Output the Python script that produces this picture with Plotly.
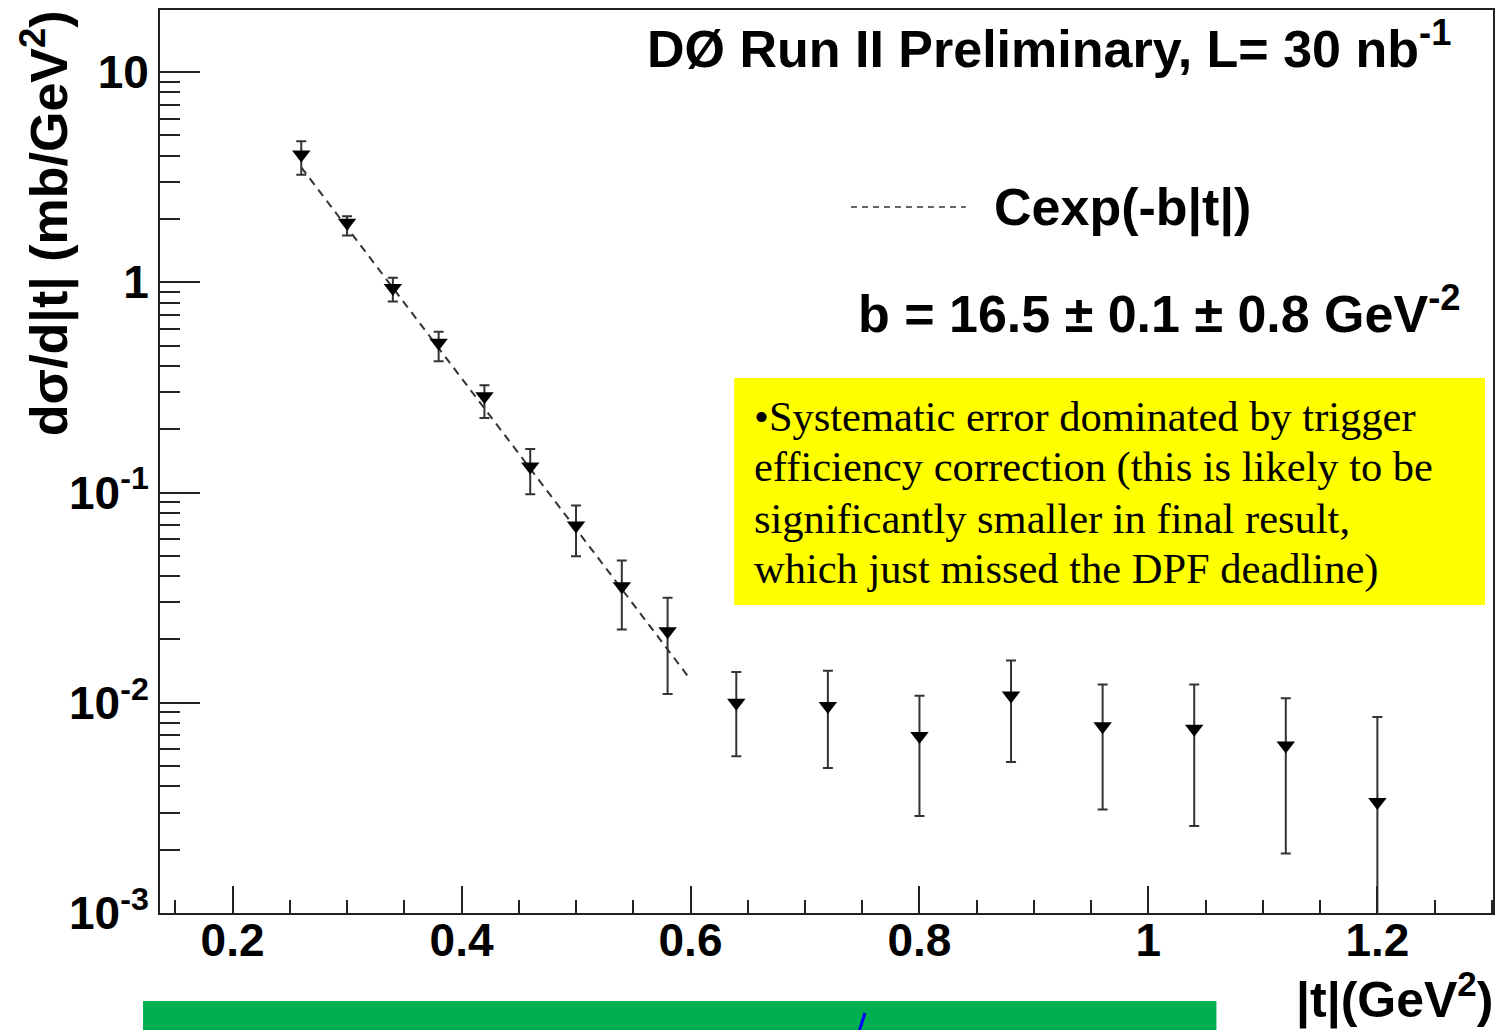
import math
import plotly.graph_objects as go

# |t| bin centres (GeV^2) and measured dsigma/d|t| (mb/GeV^2)
t_vals = [0.26, 0.30, 0.34, 0.38, 0.42, 0.46, 0.50, 0.54, 0.58,
          0.64, 0.72, 0.80, 0.88, 0.96, 1.04, 1.12, 1.20]
xsec = [4.05, 1.92, 0.94, 0.515, 0.287, 0.133, 0.0697, 0.0358, 0.0219,
        0.0100, 0.00964, 0.00694, 0.01083, 0.00774, 0.00752, 0.00627, 0.00337]
xsec_hi = [4.68, 2.06, 1.05, 0.581, 0.324, 0.161, 0.0867, 0.0475, 0.0316,
           0.0140, 0.0142, 0.0108, 0.0159, 0.0122, 0.0122, 0.0105, 0.00855]
xsec_lo = [3.25, 1.67, 0.81, 0.421, 0.226, 0.098, 0.0498, 0.0223, 0.0110,
           0.00557, 0.00489, 0.00289, 0.00522, 0.00311, 0.00259, 0.00192, 0.0004]

# Exponential fit Cexp(-b|t|) over the low-|t| region
fit_b = 16.5
fit_C = 257.0
fit_t = [0.26, 0.30, 0.34, 0.38, 0.42, 0.46, 0.50, 0.54, 0.58, 0.60]

y_tickvals = [1e-3, 1e-2, 1e-1, 1, 10]
y_ticktext = ["10<sup>-3</sup>", "10<sup>-2</sup>", "10<sup>-1</sup>", "1", "10"]
y_minor = [m * 10 ** d for d in range(-3, 2) for m in range(2, 10)]
x_tickvals = [0.2, 0.4, 0.6, 0.8, 1.0, 1.2]
x_ticktext = ["0.2", "0.4", "0.6", "0.8", "1", "1.2"]

note_lines = [
    "•Systematic error dominated by trigger",
    "efficiency correction (this is likely to be",
    "significantly smaller in final result,",
    "which just missed the DPF deadline)",
]

fit_y = [fit_C * math.exp(-fit_b * t) for t in fit_t]

W, H = 1503, 1030
L, R, T, B = 160, 1495, 10, 913


def px(x):
    return (x - L) / (R - L)


def py(y):
    return (B - y) / (B - T)


HELV = "Liberation Sans, Arial, sans-serif"
TIMES = "Liberation Serif, Times New Roman, serif"
INK = "#222"


def bold(size):
    return dict(family=HELV, size=size, color="black", weight="bold")


fig = go.Figure()

fig.add_trace(go.Scatter(
    x=fit_t, y=fit_y, mode="lines",
    line=dict(color="#333", width=2, dash="8px,6px"),
    hoverinfo="skip", showlegend=False,
))

fig.add_trace(go.Scatter(
    x=t_vals, y=xsec, mode="markers",
    marker=dict(symbol="triangle-down", size=16, color="black"),
    error_y=dict(
        type="data", symmetric=False,
        array=[h - v for h, v in zip(xsec_hi, xsec)],
        arrayminus=[v - l for v, l in zip(xsec, xsec_lo)],
        color="#333", thickness=2, width=5,
    ),
    showlegend=False,
))

shapes = [
    # yellow note box
    dict(type="rect", xref="paper", yref="paper",
         x0=px(735), x1=px(1487), y0=py(605), y1=py(378),
         fillcolor="#FFFF00", line=dict(width=0), layer="below"),
    # green banner at the bottom
    dict(type="rect", xref="paper", yref="paper",
         x0=px(143), x1=px(1218), y0=py(1040), y1=py(1001),
         fillcolor="#00B050", line=dict(width=0)),
    dict(type="line", xref="paper", yref="paper",
         x0=px(866), x1=px(860), y0=py(1013), y1=py(1032),
         line=dict(color="#0000FF", width=3)),
    # legend sample for the fit line
    dict(type="line", xref="paper", yref="paper",
         x0=px(852), x1=px(967), y0=py(207), y1=py(207),
         line=dict(color="#333", width=1.5, dash="6px,5px")),
]


def note(text, x, y, font, xanchor="left", yanchor="middle", **kw):
    return dict(text=text, x=px(x), y=py(y), xref="paper", yref="paper",
                xanchor=xanchor, yanchor=yanchor, font=font,
                showarrow=False, **kw)


annotations = [
    note("DØ Run II Preliminary, L= 30 nb<sup>-1</sup>", 1455, 45, bold(52), xanchor="right"),
    note("Cexp(-b|t|)", 993, 207, bold(52)),
    note("b = 16.5 ± 0.1 ± 0.8 GeV<sup>-2</sup>", 1465, 310, bold(52), xanchor="right"),
    note("dσ/d|t| (mb/GeV<sup>2</sup>)", 45, 8, bold(52), xanchor="center",
         yanchor="top", textangle=-90),
    note("|t|(GeV<sup>2</sup>)", 1497, 996, bold(50), xanchor="right"),
]
for i, line in enumerate(note_lines):
    annotations.append(note(line, 753, 416 + 51 * i,
                            dict(family=TIMES, size=42.5, color="black")))

fig.update_layout(
    width=W, height=H,
    margin=dict(l=L, r=W - R, t=T, b=H - B),
    paper_bgcolor="white", plot_bgcolor="white",
    shapes=shapes, annotations=annotations,
    showlegend=False,
)

fig.update_xaxes(
    range=[0.1366, 1.301], tickmode="array", tickvals=x_tickvals, ticktext=x_ticktext,
    ticks="inside", ticklen=27, tickwidth=2, tickcolor=INK,
    minor=dict(ticks="inside", ticklen=13, tickwidth=2, tickcolor=INK, dtick=0.05, tick0=0),
    showline=True, linewidth=2, linecolor=INK, mirror=True,
    showgrid=False, zeroline=False,
    tickfont=bold(46), ticklabelstandoff=-14,
)
fig.update_yaxes(
    type="log", range=[-3, 1.295], tickmode="array", tickvals=y_tickvals, ticktext=y_ticktext,
    ticks="inside", ticklen=40, tickwidth=2, tickcolor=INK,
    minor=dict(ticks="inside", ticklen=20, tickwidth=2, tickcolor=INK,
               tickmode="array", tickvals=y_minor),
    showline=True, linewidth=2, linecolor=INK, mirror=True,
    showgrid=False, zeroline=False,
    tickfont=bold(46),
)

fig.write_html("out.html")
